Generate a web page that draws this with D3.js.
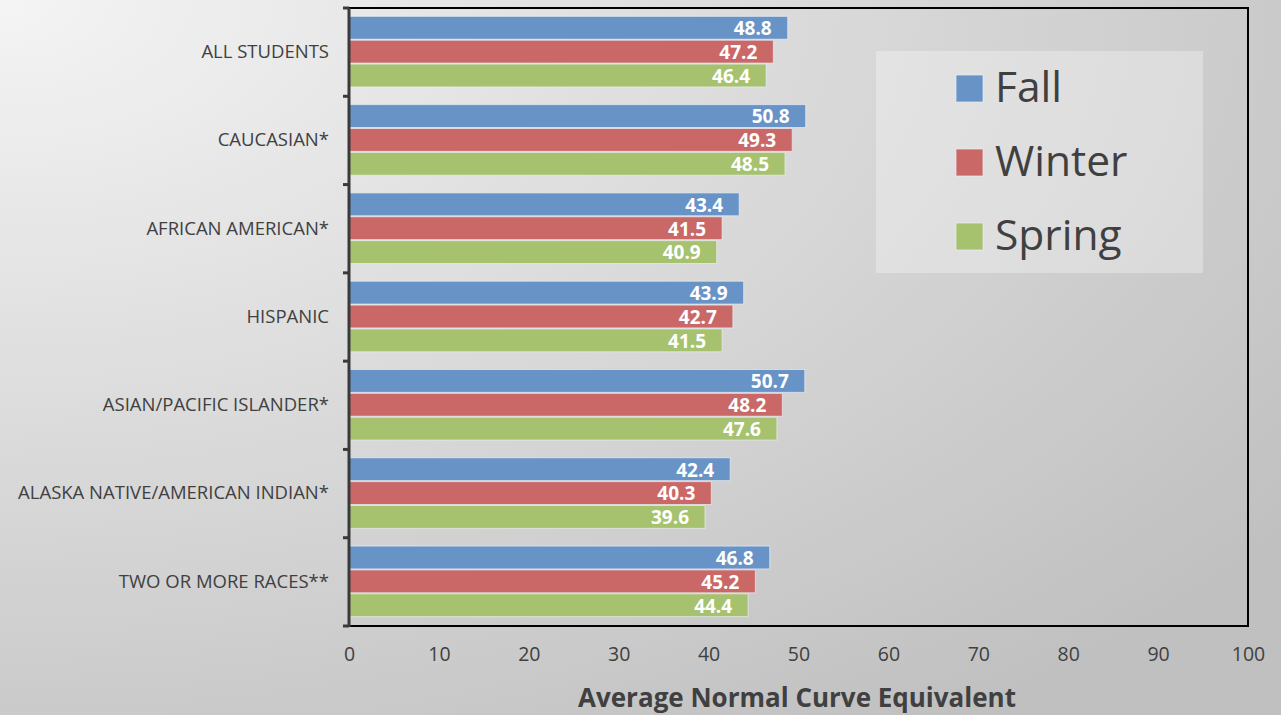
<!DOCTYPE html>
<html><head><meta charset="utf-8">
<script src="https://cdn.jsdelivr.net/npm/d3@7"></script>
<style>html,body{margin:0;padding:0;overflow:hidden;}</style>
</head><body>
<svg id="chart" width="1281" height="715"></svg>
<script>
const categories = ["ALL STUDENTS","CAUCASIAN*","AFRICAN AMERICAN*","HISPANIC","ASIAN/PACIFIC ISLANDER*","ALASKA NATIVE/AMERICAN INDIAN*","TWO OR MORE RACES**"];
const seriesNames = ["Fall","Winter","Spring"];
const fallValues = [48.8,50.8,43.4,43.9,50.7,42.4,46.8];
const winterValues = [47.2,49.3,41.5,42.7,48.2,40.3,45.2];
const springValues = [46.4,48.5,40.9,41.5,47.6,39.6,44.4];
const xTicks = [0,10,20,30,40,50,60,70,80,90,100];
const colors = ["#6793c7","#c96866","#a7c26e"];

const values = [fallValues, winterValues, springValues];
const svg = d3.select("#chart");
const W = 1281, H = 715;
const defs = svg.append("defs");
const g0 = defs.append("radialGradient").attr("id","bg").attr("cx","0").attr("cy","0").attr("r","1.25").attr("gradientUnits","objectBoundingBox");
g0.append("stop").attr("offset","0").attr("stop-color","#f4f4f4");
g0.append("stop").attr("offset","1").attr("stop-color","#c0c0c0");
svg.append("rect").attr("width",W).attr("height",H).attr("fill","url(#bg)");

const L = 349, R = 1248, T = 8, B = 626;
const x = d3.scaleLinear().domain([0,100]).range([L,R]);
const y = d3.scaleBand().domain(categories).range([T,B]).paddingInner(0).paddingOuter(0);
const yInner = d3.scaleBand().domain(seriesNames).range([0,y.bandwidth()]).paddingOuter(0.35).paddingInner(0);

// legend background
svg.append("rect").attr("x",876).attr("y",51).attr("width",327).attr("height",222).attr("fill","#ffffff").attr("opacity",0.3);

// bars
categories.forEach((c,i)=>{
  seriesNames.forEach((s,j)=>{
    const v = values[j][i];
    svg.append("rect")
      .attr("x",x(0)).attr("y",y(c)+yInner(s))
      .attr("width",x(v)-x(0)).attr("height",yInner.bandwidth()-1)
      .attr("fill",colors[j]).attr("stroke","#e8eef4").attr("stroke-opacity",0.7).attr("stroke-width",1);
    svg.append("text")
      .attr("x",x(v)-16).attr("y",y(c)+yInner(s)+yInner.bandwidth()/2)
      .attr("dy","0.36em").attr("text-anchor","end")
      .attr("font-family","Open Sans, sans-serif").attr("font-weight","bold").attr("font-size",19)
      .attr("fill","#ffffff").text(v.toFixed(1));
  });
});

// plot border
svg.append("rect").attr("x",L).attr("y",T).attr("width",R-L).attr("height",B-T)
  .attr("fill","none").attr("stroke","#000").attr("stroke-width",2);

// left axis
const yAxis = d3.axisLeft(y).tickSize(0).tickPadding(20);
const ya = svg.append("g").attr("transform",`translate(${L},0)`).call(yAxis);
ya.select(".domain").remove();
ya.selectAll("text").attr("font-family","Open Sans, sans-serif").attr("font-size",18.5).attr("fill","#404040");
svg.append("line").attr("x1",L).attr("x2",L).attr("y1",T).attr("y2",B+1).attr("stroke","#3a3a3a").attr("stroke-width",3);
const bounds = categories.map(c=>y(c)).concat([B]);
svg.selectAll(".ctick").data(bounds).enter().append("line")
  .attr("x1",L-6).attr("x2",L).attr("y1",d=>d).attr("y2",d=>d)
  .attr("stroke","#3a3a3a").attr("stroke-width",3);

// bottom axis labels
const xAxis = d3.axisBottom(x).tickValues(xTicks).tickSize(0).tickPadding(21);
const xa = svg.append("g").attr("transform",`translate(0,${B})`).call(xAxis);
xa.select(".domain").remove();
xa.selectAll("text").attr("font-family","Open Sans, sans-serif").attr("font-size",19.5).attr("fill","#404040");

svg.append("text").attr("x",797).attr("y",707).attr("text-anchor","middle")
  .attr("font-family","Open Sans, sans-serif").attr("font-weight","bold").attr("font-size",26).attr("fill","#404040")
  .text("Average Normal Curve Equivalent");

// legend
seriesNames.forEach((s,j)=>{
  const ly = 75 + j*74;
  svg.append("rect").attr("x",956).attr("y",ly).attr("width",27).attr("height",27)
    .attr("fill",colors[j]).attr("stroke","#e8eef4").attr("stroke-opacity",0.7);
  svg.append("text").attr("x",995).attr("y",ly+27).attr("font-family","Open Sans, sans-serif")
    .attr("font-size",42.5).attr("fill","#404040").text(s);
});
</script>
</body></html>
